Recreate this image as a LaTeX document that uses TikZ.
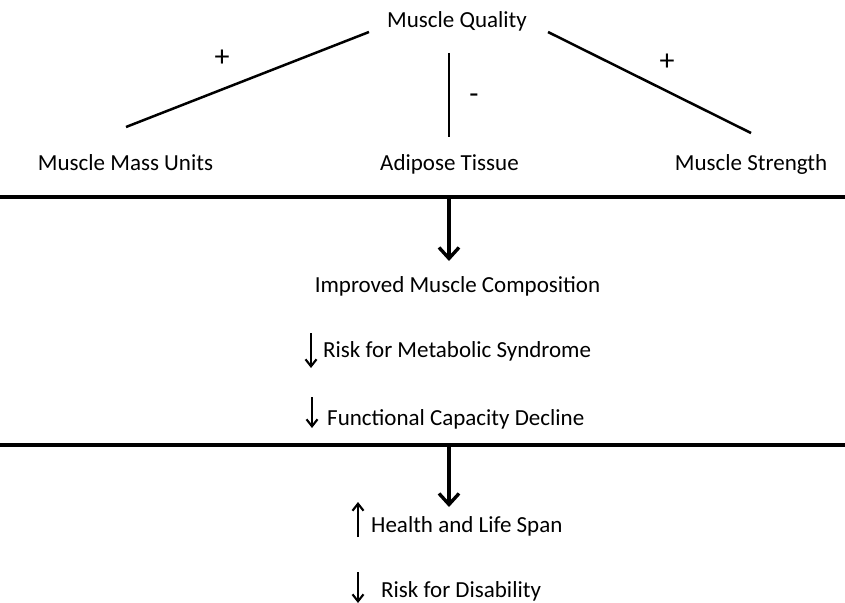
\documentclass[tikz,border=0pt]{standalone}
\usepackage{fontspec}
\setmainfont{Carlito}
\usepackage{tikz}
\usetikzlibrary{arrows.meta, positioning, calc}

\begin{document}
\begin{tikzpicture}[x=1pt, y=-1pt,
    lbl/.style={inner sep=0pt, anchor=base, font=\fontsize{23}{28}\selectfont},
    sign/.style={inner sep=0pt, font=\fontsize{30}{34}\selectfont},
    link/.style={line width=2.5pt},
    bar/.style={line width=3.2pt},
    bigarr/.style={line width=3.4pt, -{Straight Barb[length=11pt, width=20pt]}},
    smallarr/.style={line width=2.1pt, -{Straight Barb[length=7pt, width=11pt]}}]
    \useasboundingbox (0,0) rectangle (845,602);
    % muscle quality and its parts
    \node[lbl] (mq) at (457,28) {Muscle Quality};
    \node[lbl] (mass) at (125.5,170) {Muscle Mass Units};
    \node[lbl] (fat) at (449.5,170) {Adipose Tissue};
    \node[lbl] (str) at (751,170) {Muscle Strength};
    \coordinate (massA) at (126,127);  \coordinate (massB) at (369,32);
    \coordinate (fatA) at (449,53);    \coordinate (fatB) at (449,137);
    \coordinate (strA) at (548,32);    \coordinate (strB) at (751,133);
    \draw[link] (massA) -- (massB);
    \draw[link, line width=2.8pt] (fatA) -- (fatB);
    \draw[link] (strA) -- (strB);
    \node[sign] (p1) at (222,58) {+};
    \node[sign] (m1) at (474,99) {-};
    \node[sign] (p2) at (667,62) {+};
    % first bar
    \coordinate (b1L) at (0,197);  \coordinate (b1R) at (845,197);
    \coordinate (b1) at (449,197); \coordinate (b1end) at (449,261);
    \draw[bar] (b1L) -- (b1R);
    \draw[bigarr] (b1) -- (b1end);
    \node[lbl] (comp) at (457.5,292) {Improved Muscle Composition};
    \node[lbl, anchor=base west] (metab) at (323,357) {Risk for Metabolic Syndrome};
    \node[lbl, anchor=base west] (func) at (327,425) {Functional Capacity Decline};
    \draw[smallarr] ($(metab.base west)+(-12,-24)$) -- ($(metab.base west)+(-12,11)$);
    \draw[smallarr] ($(func.base west)+(-15,-28)$) -- ($(func.base west)+(-15,3)$);
    % second bar
    \coordinate (b2L) at (0,445);  \coordinate (b2R) at (845,445);
    \coordinate (b2) at (449,445); \coordinate (b2end) at (449,507);
    \draw[bar] (b2L) -- (b2R);
    \draw[bigarr] (b2) -- (b2end);
    \node[lbl, anchor=base west] (life) at (371,532) {Health and Life Span};
    \node[lbl, anchor=base west] (dis) at (381,597) {Risk for Disability};
    \draw[smallarr] ($(life.base west)+(-13,5)$) -- ($(life.base west)+(-13,-30)$);
    \draw[smallarr] ($(dis.base west)+(-23,-25)$) -- ($(dis.base west)+(-23,6)$);
\end{tikzpicture}
\end{document}
